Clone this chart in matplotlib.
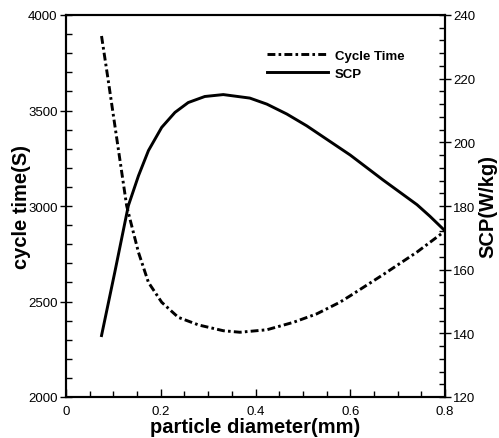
import matplotlib
matplotlib.use('Agg')
import matplotlib.pyplot as plt
from matplotlib.ticker import MultipleLocator

plt.rcParams['font.family'] = ['Liberation Sans', 'DejaVu Sans']

# particle diameter (mm) vs cycle time (s)
d_ct = [0.075, 0.089, 0.128, 0.135, 0.153, 0.174, 0.202, 0.237, 0.28, 0.332,
        0.367, 0.424, 0.48, 0.529, 0.578, 0.6, 0.669, 0.741, 0.8]
cycle_time = [3890, 3660, 3002, 2932, 2757, 2600, 2496, 2417, 2377, 2347,
              2339, 2352, 2391, 2435, 2496, 2530, 2640, 2759, 2869]

# particle diameter (mm) vs SCP (W/kg)
d_scp = [0.075, 0.103, 0.1316, 0.153, 0.174, 0.202, 0.23, 0.258, 0.293, 0.332,
         0.388, 0.424, 0.466, 0.508, 0.55, 0.6, 0.669, 0.741, 0.768, 0.8]
scp = [139.3, 159.2, 180.1, 189.5, 197.4, 204.7, 209.4, 212.5, 214.4, 215.0,
       213.9, 212.0, 208.9, 205.2, 201.0, 196.0, 188.2, 180.4, 176.8, 172.2]

fig = plt.figure(figsize=(4.99, 4.39), dpi=100)
ax = fig.add_axes([66/499, 1 - 398/439, 379/499, 382/439])
ax2 = ax.twinx()

l1, = ax.plot(d_ct, cycle_time, color='black', lw=2.1,
              dashes=(2.7, 1.1, 0.9, 1.1), label='Cycle Time')
l2, = ax2.plot(d_scp, scp, color='black', lw=2.1, label='SCP')

ax.set_xlim(0, 0.8)
ax.set_ylim(2000, 4000)
ax2.set_ylim(120, 240)

ax.set_xticks([0, 0.2, 0.4, 0.6, 0.8])
ax.set_xticklabels(['0', '0.2', '0.4', '0.6', '0.8'])
ax.xaxis.set_minor_locator(MultipleLocator(0.05))
ax.yaxis.set_major_locator(MultipleLocator(500))
ax.yaxis.set_minor_locator(MultipleLocator(100))
ax2.yaxis.set_major_locator(MultipleLocator(20))
ax2.yaxis.set_minor_locator(MultipleLocator(4))

for a in (ax, ax2):
    a.tick_params(which='major', direction='in', length=6, width=1, labelsize=9.5)
    a.tick_params(which='minor', direction='in', length=4, width=1)
    for s in a.spines.values():
        s.set_linewidth(1.5)
ax.tick_params(axis='x', which='major', pad=6)
ax2.tick_params(axis='y', which='major', direction='inout', length=8, pad=2)
ax.tick_params(axis='y', which='major', direction='inout', length=8, pad=2)

ax.set_xlabel('particle diameter(mm)', fontsize=14.5, fontweight='bold', labelpad=0)
ax.set_ylabel('cycle time(S)', fontsize=14.5, fontweight='bold', labelpad=-2)
ax2.set_ylabel('SCP(W/kg)', fontsize=14.5, fontweight='bold', labelpad=2)

ax.legend(handles=[l1, l2], loc='upper left', bbox_to_anchor=(0.50, 0.94),
          frameon=False, handlelength=4.6, handletextpad=0.5,
          labelspacing=0.4, prop={'weight': 'bold', 'size': 9.5})

fig.savefig('out.png', dpi=100)
